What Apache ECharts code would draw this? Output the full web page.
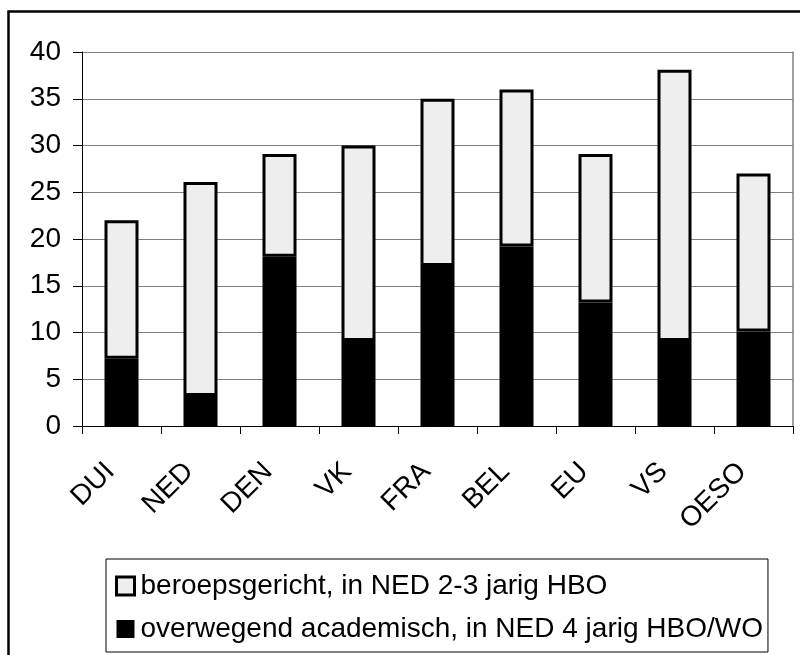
<!DOCTYPE html>
<html>
<head>
<meta charset="utf-8">
<script src="https://cdn.jsdelivr.net/npm/echarts@6/dist/echarts.min.js"></script>
<style>
  html, body { margin: 0; padding: 0; background: #fff; }
  #chart { width: 800px; height: 655px; }
</style>
</head>
<body>
<div id="chart"></div>
<script>
var landen = ['DUI', 'NED', 'DEN', 'VK', 'FRA', 'BEL', 'EU', 'VS', 'OESO'];
// onderste deel (zwart)
var academisch = [7.2, 3.2, 18.1, 9.1, 17.1, 19.2, 13.2, 9.1, 10.1];
// bovenste deel (licht)
var beroeps = [14.8, 22.9, 11.0, 20.9, 17.9, 16.8, 15.9, 29.0, 16.9];
var naamBeroeps = 'beroepsgericht, in NED 2-3 jarig HBO';
var naamAcad = 'overwegend academisch, in NED 4 jarig HBO/WO';

var font = 'Liberation Sans, Arial, sans-serif';
var myChart = echarts.init(document.getElementById('chart'));

var option = {
    animation: false,
    backgroundColor: '#fff',
    grid: {
        left: 82,
        right: 7,
        top: 52,
        bottom: 229
    },
    graphic: [
        {
            type: 'rect',
            left: 6,
            top: 9,
            shape: { width: 820, height: 700 },
            style: { fill: 'none', stroke: '#000', lineWidth: 2.5 },
            silent: true
        }
    ],
    legend: {
        orient: 'vertical',
        left: 106,
        top: 559,
        padding: [12, 5, 8, 9],
        borderColor: '#000',
        borderWidth: 1,
        itemWidth: 18,
        itemHeight: 18,
        itemGap: 13,
        icon: 'rect',
        textStyle: {
            fontFamily: font,
            fontSize: 28,
            color: '#000',
            lineHeight: 30,
            padding: [0, 0, 0, 1]
        },
        data: [
            { name: naamBeroeps, itemStyle: { color: '#eeeeee', borderColor: '#000', borderWidth: 3 } },
            { name: naamAcad, itemStyle: { color: '#000', borderColor: '#000', borderWidth: 0 } }
        ]
    },
    xAxis: [
        {
            type: 'category',
            data: landen,
            axisLine: { lineStyle: { color: '#000', width: 1 } },
            axisTick: { show: true, length: 8, lineStyle: { color: '#000', width: 1 } },
            axisLabel: {
                rotate: 45,
                margin: 30,
                padding: [0, 16, 0, 0],
                fontFamily: font,
                fontSize: 28,
                color: '#000'
            }
        }
    ],
    yAxis: [
        {
            type: 'value',
            min: 0,
            max: 40,
            interval: 5,
            axisLine: { show: true, lineStyle: { color: '#000', width: 1 } },
            axisTick: { show: true, inside: false, length: 9, lineStyle: { color: '#000', width: 1 } },
            axisLabel: {
                margin: 21,
                fontFamily: font,
                fontSize: 28,
                color: '#000'
            },
            splitLine: { lineStyle: { color: '#808080', width: 1 } }
        },
        {
            type: 'value',
            position: 'right',
            min: 0,
            max: 40,
            interval: 5,
            axisLine: { show: true, lineStyle: { color: '#808080', width: 1.5 } },
            axisTick: { show: false },
            axisLabel: { show: false },
            splitLine: { show: false }
        }
    ],
    series: [
        {
            name: naamAcad,
            type: 'bar',
            stack: 'totaal',
            barWidth: 34,
            data: academisch,
            itemStyle: { color: '#000', borderColor: '#000', borderWidth: 3 }
        },
        {
            name: naamBeroeps,
            type: 'bar',
            stack: 'totaal',
            barWidth: 34,
            data: beroeps,
            itemStyle: { color: '#eeeeee', borderColor: '#000', borderWidth: 3 }
        }
    ]
};
myChart.setOption(option);
</script>
</body>
</html>
